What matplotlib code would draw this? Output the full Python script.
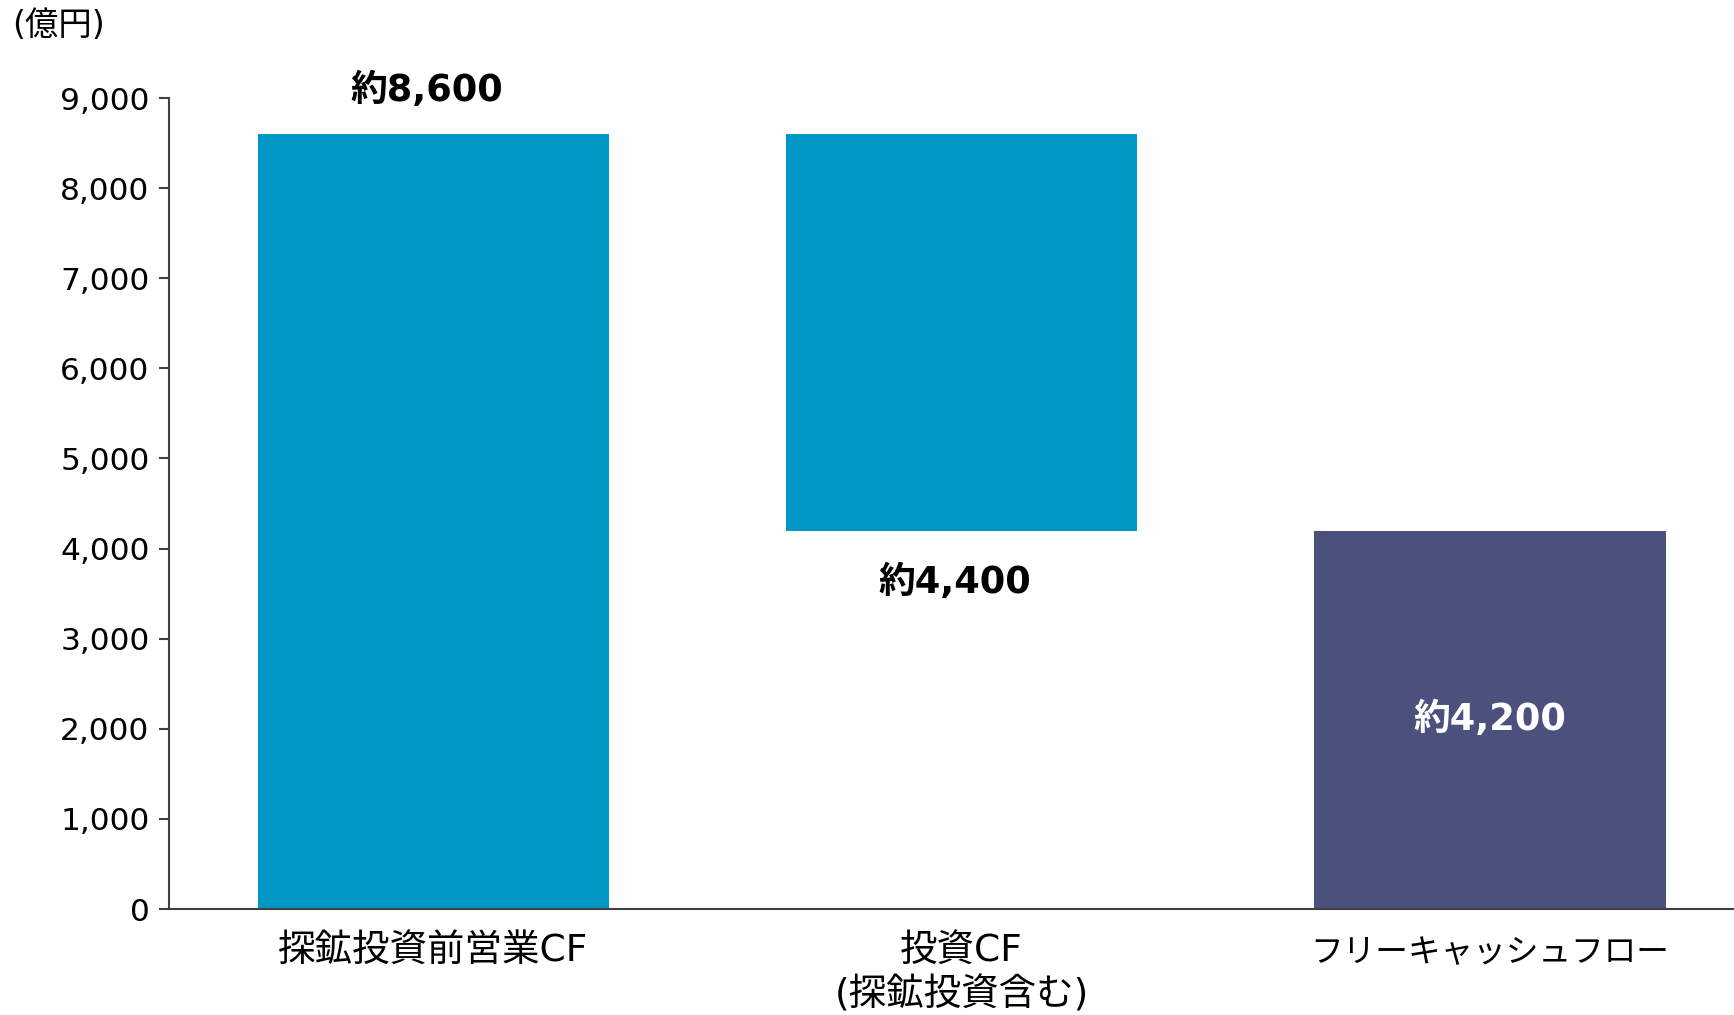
import matplotlib.pyplot as plt
import numpy as np

# DejaVu for latin/digits (Verdana-like), Noto CJK for the Japanese glyphs
plt.rcParams['font.family'] = ['DejaVu Sans', 'Noto Sans CJK JP']

# data (億円)
categories = ["探鉱投資前営業CF", "投資CF\n(探鉱投資含む)", "フリーキャッシュフロー"]
bar_bottoms = [0, 4200, 0]
bar_tops = [8600, 8600, 4200]
value_labels = ["約8,600", "約4,400", "約4,200"]
yticks = [0, 1000, 2000, 3000, 4000, 5000, 6000, 7000, 8000, 9000]

blue = "#0097C4"
navy = "#4B507D"
bar_colors = [blue, blue, navy]

fig = plt.figure(figsize=(17.34, 10.15), dpi=100)
ax = fig.add_axes([0.0975, 0.1044, 0.9025, 0.799])

x = np.arange(len(categories))
heights = [t - b for t, b in zip(bar_tops, bar_bottoms)]
ax.bar(x, heights, bottom=bar_bottoms, width=0.665, color=bar_colors, zorder=2)

# value labels
ax.annotate(value_labels[0], (x[0], bar_tops[0]), xytext=(-5, 18), textcoords="offset points",
            ha="center", va="bottom", fontsize=26.5, fontweight="bold", color="black")
ax.annotate(value_labels[1], (x[1], bar_bottoms[1]), xytext=(-5, -24), textcoords="offset points",
            ha="center", va="top", fontsize=26.5, fontweight="bold", color="black")
ax.text(x[2], bar_tops[2] / 2, value_labels[2], ha="center", va="center",
        fontsize=26.5, fontweight="bold", color="white")

ax.set_xlim(-0.5, 2.462)
ax.set_ylim(0, 9000)
ax.set_yticks(yticks)
ax.set_yticklabels([f"{v:,}" for v in yticks])
ax.set_xticks(x)
ax.set_xticklabels(categories, linespacing=1.25)

ax.tick_params(axis="y", direction="out", length=7, width=1.5, color="#404040",
               labelsize=22.5, pad=7)
ax.tick_params(axis="x", length=0, labelsize=27, pad=17)
# katakana in the original font are set narrower, shrink this one a bit
lbl = ax.get_xticklabels()[2]
lbl.set_fontsize(23.5)
lbl.set_y(-0.004)

for side in ["top", "right"]:
    ax.spines[side].set_visible(False)
for side in ["left", "bottom"]:
    ax.spines[side].set_color("#404040")
    ax.spines[side].set_linewidth(1.5)

fig.text(0.007, 0.975, "(億円)", ha="left", va="center", fontsize=24)

fig.savefig("out.png", dpi=100)
